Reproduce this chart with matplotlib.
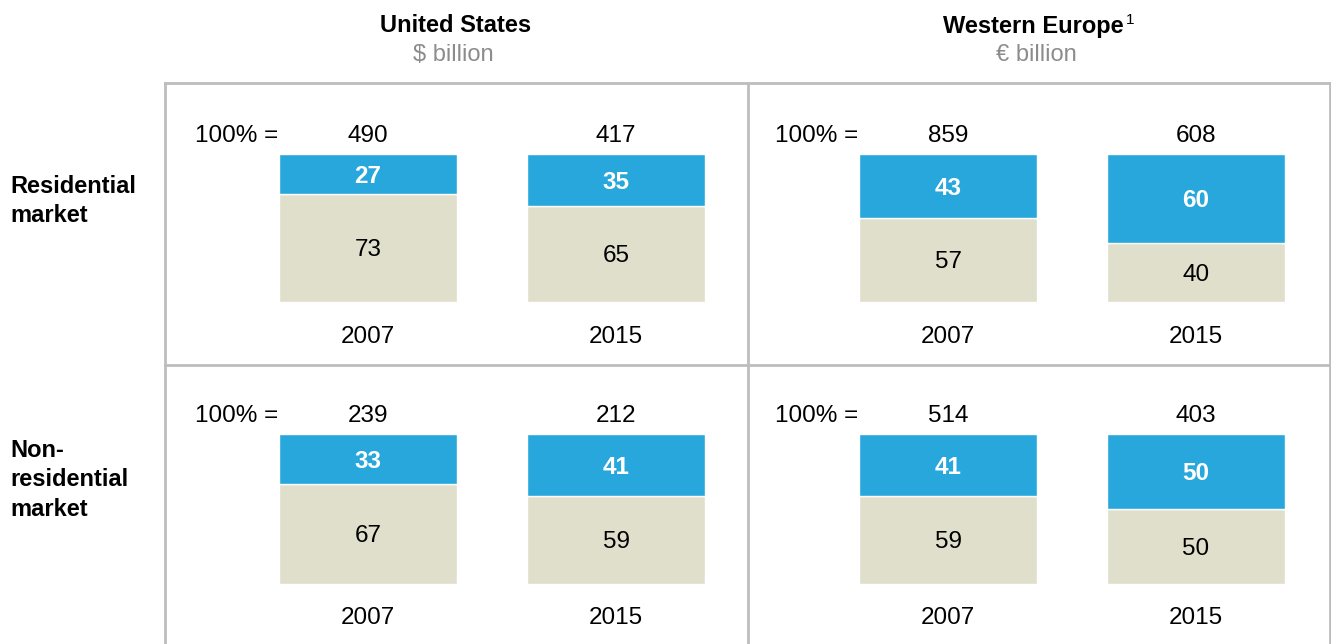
import matplotlib
matplotlib.use("Agg")
import matplotlib.pyplot as plt
from matplotlib.lines import Line2D

plt.rcParams['font.family'] = ['Liberation Sans', 'DejaVu Sans']

# market share split, in percent of the total (blue = top segment)
years = ["2007", "2015"]
regions = ["United States", "Western Europe"]
units = ["$ billion", "€ billion"]
markets = ["Residential\nmarket", "Non-\nresidential\nmarket"]

# totals (100% =) per market row, per region, per year
totals_res = [[490, 417], [859, 608]]
totals_nonres = [[239, 212], [514, 403]]

# blue share per market row, per region, per year
blue_res = [[27, 35], [43, 60]]
blue_nonres = [[33, 41], [41, 50]]

# beige share per market row, per region, per year
beige_res = [[73, 65], [57, 40]]
beige_nonres = [[67, 59], [59, 50]]

BLUE = "#27A7DB"
BEIGE = "#E0DFCB"
GRID = "#BDBDBD"
W, H = 1331, 644
FS = 17.5

fig = plt.figure(figsize=(W / 100, H / 100), dpi=100)


def fx(x):
    return x / W


def fy(y):
    return 1 - y / H


# frame lines of the 2x2 table
for x0, y0, x1, y1 in [(165, 83, 1330, 83), (165, 83, 165, 644), (748, 83, 748, 644),
                       (1330, 83, 1330, 644), (165, 365, 1330, 365)]:
    fig.add_artist(Line2D([fx(x0), fx(x1)], [fy(y0), fy(y1)], color=GRID, lw=2))

# column headers
fig.text(fx(456), fy(26), regions[0], ha='center', va='center', fontsize=17, fontweight='bold')
fig.text(fx(453), fy(55), units[0], ha='center', va='center', fontsize=17, color='#8C8C8C')
fig.text(fx(1124), fy(26), regions[1], ha='right', va='center', fontsize=17, fontweight='bold')
fig.text(fx(1126), fy(20), "1", ha='left', va='center', fontsize=11)
fig.text(fx(1036), fy(55), units[1], ha='center', va='center', fontsize=17, color='#8C8C8C')

# row headers
fig.text(fx(10), fy(201), markets[0], ha='left', va='center', fontsize=17,
         fontweight='bold', linespacing=1.38)
fig.text(fx(10), fy(480), markets[1], ha='left', va='center', fontsize=17,
         fontweight='bold', linespacing=1.38)

rows = [(totals_res, blue_res, beige_res, 154, 302),
        (totals_nonres, blue_nonres, beige_nonres, 434, 584)]
centers = [368, 948]
step = 248

for totals, blue, beige, ytop, ybot in rows:
    for c in range(2):
        cx = centers[c]
        ax = fig.add_axes([fx(cx - step * 0.5), fy(ybot), 2 * step / W, (ybot - ytop) / H])
        ax.set_xlim(-0.5, 1.5)
        ax.set_ylim(0, 100)
        ax.axis('off')
        xs = [0, 1]
        # pixel -> percent units for this panel
        k = 100 / (ybot - ytop)
        nudge = 2.5 * k
        ax.bar(xs, beige[c], width=0.718, color=BEIGE, edgecolor='white', linewidth=1)
        ax.bar(xs, blue[c], bottom=beige[c], width=0.718, color=BLUE,
               edgecolor='white', linewidth=1)
        for i in xs:
            ax.text(i, beige[c][i] / 2 - nudge, str(beige[c][i]), ha='center',
                    va='center', fontsize=FS)
            ax.text(i, beige[c][i] + blue[c][i] / 2 - nudge, str(blue[c][i]),
                    ha='center', va='center', fontsize=FS, color='white',
                    fontweight='bold')
            ax.text(i, 100 + 21 * k - nudge, str(totals[c][i]), ha='center',
                    va='center', fontsize=FS, clip_on=False)
            ax.text(i, -32 * k - nudge, years[i], ha='center', va='center',
                    fontsize=FS, clip_on=False)
        ax.text(-0.53, 100 + 21 * k - nudge, "100% =", ha='center', va='center',
                fontsize=FS, clip_on=False)

fig.savefig("out.png", dpi=100)
